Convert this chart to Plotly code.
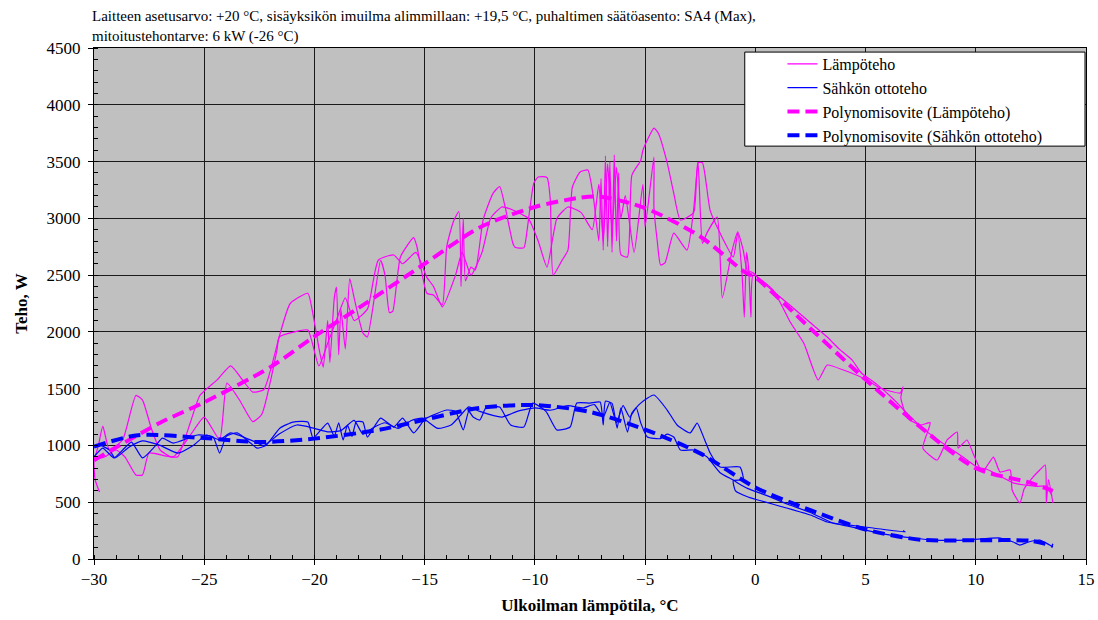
import plotly.graph_objects as go

# ---------------- data ----------------
# Lämpöteho, measured (two sweeps)
lampo_a_x = [-29.75, -29.95, -30.0, -29.8, -29.6, -29.3, -28.7, -28.1, -27.8, -27.4, -27.0, -26.5, -26.2,
             -25.6, -25.2, -24.4, -23.8, -23.2, -22.8, -22.3, -21.9, -21.6, -21.1, -20.3, -20.1, -19.75,
             -19.6, -19.4, -19.3, -19.1, -19.0, -18.9, -18.8, -18.6, -18.4, -18.2, -17.8, -17.6, -17.0,
             -16.8, -16.6, -16.45, -16.1, -15.5, -15.35, -14.9, -14.6, -14.2, -14.0, -13.7, -13.45, -13.35,
             -13.25, -13.15, -12.9, -12.7, -12.35, -11.9, -11.6, -11.35, -11.0, -10.9, -10.5, -10.35,
             -10.05, -9.85, -9.45, -9.3, -9.17, -8.77, -8.5, -8.3, -7.95, -7.6, -7.35, -7.1, -7.0, -6.9,
             -6.8, -6.7, -6.6, -6.5, -6.4, -6.3, -6.2, -6.1, -5.8, -5.6, -5.2, -5.1, -4.6, -4.4, -4.0,
             -3.7, -3.4, -2.8, -2.6, -2.4, -2.05, -1.6, -1.0, -0.8, -0.6, -0.5, -0.4, -0.3, -0.2, -0.1,
             0.8, 1.6, 2.2, 2.85, 3.26, 4.0, 5.07, 5.66, 6.57, 6.7, 6.6, 6.9, 7.5, 7.93, 7.6, 8.25, 8.7,
             9.16, 9.2, 9.6, 9.9, 10.3, 10.8, 11.1, 11.56, 11.65, 12.0, 12.2, 12.5, 12.9, 13.15, 13.2,
             13.3, 13.5]
lampo_a_y = [590, 700, 860, 1000, 1170, 960, 1050, 1440, 1400, 1150, 960, 900, 900,
             1220, 1440, 1580, 1700, 1560, 1470, 1490, 1730, 1955, 2250, 2340, 2190, 1810,
             1690, 2100, 1730, 2300, 2395, 1800, 2200, 1850, 2470, 2300, 1990, 1955, 2630,
             2500, 2170, 2180, 2660, 2830, 2750, 2340, 2325, 2237, 2750, 2970, 3060, 2400,
             3000, 2450, 2570, 2545, 2985, 3220, 3280, 3100, 2780, 2745, 2740, 2900,
             3310, 3364, 3360, 3160, 2500, 2630, 2720, 3276, 3408, 3425, 3190, 2800, 3350, 2720,
             3550, 2750, 3500, 2700, 3560, 2800, 3400, 2680, 2660, 3380, 3510, 3600, 3795, 3750, 3490,
             3220, 2985, 3050, 3490, 3490, 3070, 2870, 2660, 2870, 2500, 2130, 2700, 2550, 2130, 2500,
             2370, 2080, 1900, 1576, 1708, 1664, 1576, 1506, 1462, 1515, 1420, 1240, 1180, 1200, 977, 872, 1048,
             1118, 977, 1048, 920, 766, 898, 766, 784, 608, 493, 620, 700, 784, 828, 493,
             700, 493]

lampo_b_x = [13.45, 13.2, 12.8, 12.3, 11.7, 11.2, 10.5, 10.06, 9.4, 8.8, 8.2, 7.6, 7.0, 6.2, 5.5, 4.8,
             4.4, 3.8, 3.26, 2.5, 1.6, 0.8, 0.2, -0.1, -0.37, -0.55, -0.8, -1.05, -1.5, -1.73, -2.2,
             -2.4, -2.6, -2.8, -3.1, -3.7, -4.1, -4.3, -4.45, -4.6, -4.6, -5.0, -5.1, -5.5, -5.9, -6.1,
             -6.3, -6.5, -6.7, -6.9, -7.1, -7.4, -7.9, -8.5, -9.0, -9.45, -9.85, -10.3, -11.0, -11.5,
             -12.0, -12.4, -12.9, -13.3, -13.6, -14.2, -14.6, -14.9, -15.4, -16.0, -16.4, -17.1, -17.6,
             -18.2, -18.6, -19.0, -19.4, -19.8, -20.3, -20.9, -21.6, -21.7, -22.4, -22.8, -23.4, -23.97,
             -24.3, -25.0, -25.6, -26.4, -27.5, -27.8, -28.1, -28.6, -29.0, -29.5, -29.9]
lampo_b_y = [560, 640, 640, 650, 670, 720, 790, 810, 900, 980, 1060, 1150, 1260, 1420, 1540, 1640,
             1750, 1850, 1955, 2080, 2230, 2360, 2460, 2520, 2545, 2720, 2880, 2720, 2300, 3010, 2870,
             2780, 3496, 3073, 2720, 2870, 2607, 2590, 2800, 3100, 3540, 2924, 3300, 2700, 3200, 3000,
             3450, 2900, 3480, 2800, 3300, 2900, 3050, 3100, 3000, 2570, 2800, 3000, 3073, 3100,
             3003, 2700, 2500, 2700, 2500, 2220, 2400, 2480, 2700, 2600, 2677, 2633, 2200,
             2100, 2300, 2105, 1900, 1700, 2016, 2000, 1955, 1840, 1270, 1210, 1400, 1550,
             1050, 1250, 1100, 900, 933, 740, 740, 900, 960, 900, 880]

# Sähkön ottoteho, measured (two sweeps)
sahko_a_x = [-30.0, -29.6, -29.1, -28.7, -28.3, -27.8, -27.2, -26.9, -26.4, -25.3, -24.6, -24.3, -24.0,
             -23.5, -22.9, -22.6, -22.2, -21.56, -20.97, -20.3, -20.06, -19.4, -19.1, -18.9, -18.7, -18.5,
             -18.3, -18.1, -17.8, -17.6, -17.0, -16.4, -16.0, -15.5, -15.0, -14.7, -14.0, -13.6, -13.25,
             -13.0, -12.8, -12.5, -12.2, -11.6, -11.1, -10.5, -10.1, -9.5, -9.0, -8.4, -8.1, -7.5, -7.04,
             -6.9, -6.8, -6.5, -6.27, -6.1, -5.8, -5.6, -5.2, -4.6, -4.0, -3.55, -2.96, -2.64, -2.3,
             -2.05, -1.6, -0.7, -0.55, -1.0, -0.9, -0.33, 1.26, 2.5, 3.26, 4.2, 5.35, 6.8, 6.7]
sahko_a_y = [900, 977, 890, 960, 1030, 890, 1000, 1065, 1021, 1092, 1074, 933, 1080,
             1110, 1021, 977, 1000, 1153, 1206, 1206, 1065, 1197, 1080, 1200, 1048, 1180,
             1080, 1210, 1206, 1074, 1241, 1162, 1241, 1110, 1230, 1260, 1312, 1300, 1136,
             1300, 1250, 1224, 1338, 1338, 1180, 1162, 1373, 1300, 1136, 1162, 1373, 1373, 1382,
             1180, 1390, 1370, 1153, 1330, 1118, 1285, 1373, 1444, 1312, 1180, 1110, 1197, 1050,
             933, 810, 810, 700, 690, 600, 546, 458, 387, 326, 300, 273, 238, 250]

sahko_b_x = [13.5, 13.2, 12.9, 12.4, 12.0, 11.7, 11.1, 9.6, 8.07, 7.16, 6.0, 5.0, 4.2, 3.5, 2.5, 1.5,
             0.5, -0.33, -0.8, -1.0, -1.6, -2.2, -2.8, -3.4, -3.7, -4.0, -4.3, -4.9, -5.2, -5.4, -5.7,
             -6.0, -6.3, -6.6, -6.9, -7.3, -7.8, -8.5, -9.3, -10.0, -10.8, -11.5, -12.5, -13.0, -13.4,
             -13.8, -14.4, -15.1, -15.6, -16.2, -16.8, -17.3, -17.8, -18.2, -18.8, -19.4, -20.0, -20.8,
             -21.6, -22.3, -22.8, -23.8, -24.3, -24.9, -25.5, -26.2, -27.0, -27.8, -28.4, -29.05, -29.3,
             -29.7, -30.0]
sahko_b_y = [106, 140, 167, 150, 123, 150, 185, 167, 167, 185, 215, 255, 290, 317, 410, 480,
             560, 620, 670, 695, 760, 900, 960, 960, 1074, 1100, 1060, 1074, 1200, 1330, 1250,
             1350, 1200, 1380, 1250, 1360, 1330, 1350, 1310, 1330, 1300, 1250, 1300, 1340, 1260,
             1180, 1150, 1240, 1220, 1150, 1200, 1160, 1100, 1220, 1130, 1120, 1150, 1180,
             1100, 1000, 1040, 1110, 1050, 1092, 1000, 933, 1000, 1040, 986, 890, 960,
             1000, 986]

# Polynomial fits
fit_lampo_x = [-30, -27, -25, -22, -20, -18, -15, -12.5, -10, -8, -7, -5, -2.5, -0.5, 0, 2.5, 5, 7.5, 10, 12.5, 13.5]
fit_lampo_y = [870, 1200, 1380, 1690, 1960, 2210, 2600, 2920, 3100, 3180, 3190, 3090, 2840, 2530, 2480,
               2030, 1580, 1160, 800, 670, 600]
fit_sahko_x = [-30, -28, -25, -22.5, -20, -17, -15.5, -12.5, -10, -7.5, -5, -2.5, 0, 2.5, 5, 7.5, 10, 12.5, 13.5]
fit_sahko_y = [990, 1090, 1065, 1030, 1060, 1140, 1205, 1330, 1355, 1295, 1140, 930, 630, 430, 260, 170,
               165, 160, 115]

x_ticks = [-30, -25, -20, -15, -10, -5, 0, 5, 10, 15]
y_ticks = [0, 500, 1000, 1500, 2000, 2500, 3000, 3500, 4000, 4500]

title_lines = ["Laitteen asetusarvo: +20 °C, sisäyksikön imuilma alimmillaan: +19,5 °C, puhaltimen säätöasento: SA4 (Max),",
               "mitoitustehontarve: 6 kW (-26 °C)"]
names = ["Lämpöteho", "Sähkön ottoteho", "Polynomisovite (Lämpöteho)", "Polynomisovite (Sähkön ottoteho)"]

MAG = "#ff00ff"
BLU = "#0000ff"
SERIF = "Liberation Serif, Times New Roman, serif"

fig = go.Figure()
fig.add_trace(go.Scatter(x=lampo_a_x + [None] + lampo_b_x, y=lampo_a_y + [None] + lampo_b_y,
                         mode="lines", name=names[0],
                         line=dict(color=MAG, width=1.2, shape="spline", smoothing=0.5), connectgaps=False))
fig.add_trace(go.Scatter(x=sahko_a_x + [None] + sahko_b_x, y=sahko_a_y + [None] + sahko_b_y,
                         mode="lines", name=names[1],
                         line=dict(color=BLU, width=1.2, shape="spline", smoothing=0.5), connectgaps=False))
fig.add_trace(go.Scatter(x=fit_lampo_x, y=fit_lampo_y, mode="lines", name=names[2],
                         line=dict(color=MAG, width=4, dash="12px,6px", shape="spline", smoothing=0.8)))
fig.add_trace(go.Scatter(x=fit_sahko_x, y=fit_sahko_y, mode="lines", name=names[3],
                         line=dict(color=BLU, width=4, dash="12px,6px", shape="spline", smoothing=0.8)))

axis_common = dict(showline=True, linecolor="black", linewidth=1, mirror=True, automargin=False,
                   showgrid=True, gridcolor="#1a1a1a", gridwidth=1, zeroline=False,
                   ticks="outside", ticklen=5, tickcolor="black",
                   tickfont=dict(family=SERIF, size=17, color="black"))

fig.update_xaxes(range=[-30, 15], tickvals=x_ticks,
                 minor=dict(dtick=1, ticks="inside", ticklen=4, tickcolor="black", showgrid=False),
                 title=dict(text="<b>Ulkoilman lämpötila, °C</b>", font=dict(family=SERIF, size=17, color="black"),
                            standoff=10),
                 **axis_common)
fig.update_yaxes(range=[0, 4500], tickvals=y_ticks,
                 minor=dict(dtick=100, ticks="inside", ticklen=4, tickcolor="black", showgrid=False),
                 title=dict(text="<b>Teho, W</b>", font=dict(family=SERIF, size=17, color="black"),
                            standoff=14),
                 ticklabelstandoff=4,
                 **axis_common)

fig.add_shape(type="rect", xref="paper", yref="paper", x0=0.656, x1=0.999, y0=0.808, y1=0.992,
              fillcolor="white", line=dict(color="black", width=1), layer="above")

fig.add_annotation(text="<br>".join(title_lines), xref="paper", yref="paper",
                   x=-0.004, xanchor="left", y=1.082, yanchor="top", align="left", showarrow=False,
                   font=dict(family=SERIF, size=15, color="black"))

fig.update_layout(
    width=1098, height=620,
    margin=dict(l=94, r=12, t=48, b=61),
    paper_bgcolor="white", plot_bgcolor="#c0c0c0",
    legend=dict(x=0.694, xanchor="left", y=1.002, yanchor="top", bgcolor="rgba(0,0,0,0)",
                borderwidth=0, font=dict(family=SERIF, size=16, color="black"),
                tracegroupgap=0),
    showlegend=True,
)

fig.write_html("out.html")
